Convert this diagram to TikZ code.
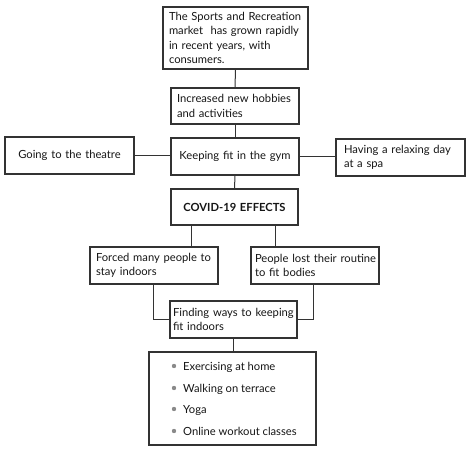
\documentclass[tikz,border=0pt]{standalone}
\usepackage{fontspec}
\setmainfont{Lato}
\usetikzlibrary{calc}
\definecolor{linec}{HTML}{333333}
\definecolor{textc}{HTML}{151515}
\definecolor{bulc}{HTML}{8A8A8A}
\newcommand\lineof[1]{\mbox{#1}}
\begin{document}
\begin{tikzpicture}[x=1pt,y=-1pt,
  box/.style={draw=linec, line width=1.1pt, inner ysep=0pt, text=textc,
    font={\fontsize{11.2}{14.5}\selectfont}},
  conn/.style={draw=linec, line width=1pt},
  item/.style={anchor=base west, inner sep=0pt, text=textc, font={\fontsize{11.2}{12}\selectfont}},
  bul/.style={circle, fill=bulc, inner sep=0pt, minimum size=4.4pt}]
\useasboundingbox (0,0) rectangle (474,450);
\node[box, align=left, inner xsep=6pt, text width=133pt, minimum height=62pt] (top) at (235.5,38)
  {\lineof{The Sports and Recreation}\\\lineof{market\ \ has grown rapidly}\\\lineof{in recent years, with}\\\lineof{consumers.}};
\node[box, align=left, inner xsep=6pt, text width=116pt, minimum height=36pt] (hob) at (235,106)
  {\lineof{Increased new hobbies}\\\lineof{and activities}};
\node[box, align=center, inner xsep=4pt, text width=120pt, minimum height=37pt] (gym) at (235,156.5)
  {\lineof{Keeping fit in the gym}};
\node[box, align=center, inner xsep=4pt, text width=121pt, minimum height=37pt] (theatre) at (69.5,155.5)
  {\lineof{Going to the theatre}};
\node[box, align=left, inner xsep=8pt, text width=113pt, minimum height=37pt] (spa) at (400.5,157.5)
  {\lineof{Having a relaxing day}\\\lineof{at a spa}};
\node[box, align=center, inner xsep=4pt, text width=119pt, minimum height=36pt, font={\fontsize{11.2}{12}\selectfont\bfseries}] (covid) at (234.5,207)
  {\lineof{COVID-19 EFFECTS}};
\node[box, align=left, inner xsep=6pt, text width=116pt, minimum height=37pt] (forced) at (154,265.5)
  {\lineof{Forced many people to}\\\lineof{stay indoors}};
\node[box, align=left, inner xsep=4pt, text width=120pt, minimum height=37pt] (lost) at (315,265.5)
  {\lineof{People lost their routine}\\\lineof{to fit bodies}};
\node[box, align=left, inner xsep=3pt, text width=121pt, minimum height=37pt] (find) at (233.5,319.5)
  {\lineof{Finding ways to keeping}\\\lineof{fit indoors}};
\node[box, inner sep=0pt, minimum width=167pt, minimum height=93pt] (list) at (232.5,398.5) {};
\node[bul] (b1) at (174,366) {};
\node[bul] (b2) at (174,388) {};
\node[bul] (b3) at (174,409) {};
\node[bul] (b4) at (174,431) {};
\node[item] (i1) at (183,370) {Exercising at home};
\node[item] (i2) at (183,392) {Walking on terrace};
\node[item] (i3) at (183,413) {Yoga};
\node[item] (i4) at (183,435) {Online workout classes};
\draw[conn] (top.south) -- (hob.north);
\draw[conn] (hob.south) -- (gym.north);
\draw[conn] (theatre.east) -- (theatre.east -| gym.west);
\draw[conn] (gym.east) -- (gym.east -| spa.west);
\draw[conn] (gym.south) -- (covid.north);
\draw[conn] ($(covid.south west)+(21.5,0)$) coordinate (c1) -- (c1 |- forced.north);
\draw[conn] ($(covid.south west)+(105.5,0)$) coordinate (c2) -- (c2 |- lost.north);
\draw[conn] ($(forced.south west)+(64,0)$) coordinate (f1) |- (find.west);
\draw[conn] ($(lost.south west)+(63,0)$) coordinate (f2) |- (find.east);
\draw[conn] (find.south) -- (find.south |- list.north);
\end{tikzpicture}
\end{document}
